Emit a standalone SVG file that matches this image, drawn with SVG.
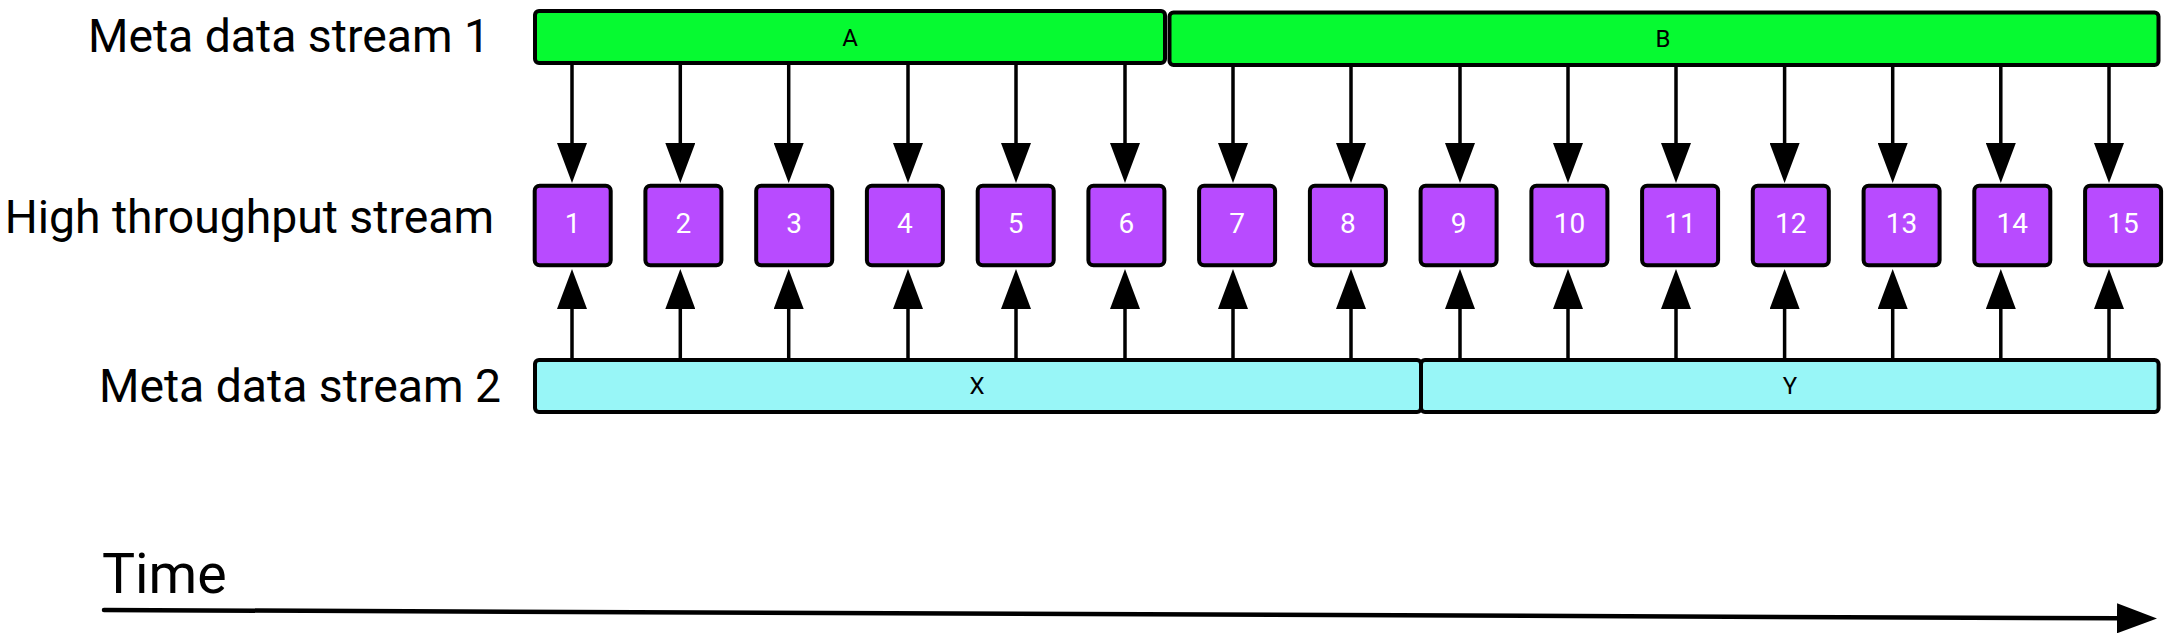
<svg xmlns="http://www.w3.org/2000/svg" width="2170" height="641" viewBox="0 0 2170 641">
<style>
  text { font-family: Roboto, "Liberation Sans", sans-serif; }
  .lbl { font-size: 46.3px; fill: #000; }
  .g { fill: #06FA31; stroke: #000; stroke-width: 4; }
  .c { fill: #98F6F7; stroke: #000; stroke-width: 4; }
  .p { fill: #B84BFF; stroke: #000; stroke-width: 4; }
  .bt { font-size: 24px; fill: #000; text-anchor: middle; }
  .pt { font-size: 28px; fill: #fff; text-anchor: middle; }
  .ar { stroke: #000; stroke-width: 3.5; fill: none; marker-end: url(#ah); }
</style>
<defs>
  <marker id="ah" markerUnits="userSpaceOnUse" markerWidth="40" markerHeight="30" refX="1" refY="15" orient="auto" viewBox="0 0 40 30">
    <path d="M0,0 L40,15 L0,30 Z" fill="#000"/>
  </marker>
</defs>
<rect width="2170" height="641" fill="#fff"/>

<g id="labels">
  <text class="lbl" x="490" y="52" text-anchor="end">Meta data stream 1</text>
  <text class="lbl" x="494" y="233" text-anchor="end">High throughput stream</text>
  <text class="lbl" x="501" y="402" text-anchor="end">Meta data stream 2</text>
  <text class="lbl" x="102" y="593" style="font-size:55.5px">Time</text>
</g>

<g id="stream1-A"><rect class="g" x="535" y="11" width="630" height="52" rx="4"/><text class="bt" x="850" y="46">A</text></g>
<g id="stream1-B"><rect class="g" x="1169.5" y="12.5" width="989" height="52.5" rx="4"/><text class="bt" x="1663" y="47">B</text></g>
<g id="stream2-X"><rect class="c" x="535" y="360" width="886" height="52" rx="4"/><text class="bt" x="977" y="394">X</text></g>
<g id="stream2-Y"><rect class="c" x="1421" y="360" width="737.6" height="52" rx="4"/><text class="bt" x="1790" y="394">Y</text></g>

<g id="n1"><rect class="p" x="534.7" y="185.7" width="76" height="79.6" rx="5"/><text class="pt" x="572.7" y="233">1</text></g>
<g id="n2"><rect class="p" x="645.4" y="185.7" width="76" height="79.6" rx="5"/><text class="pt" x="683.4" y="233">2</text></g>
<g id="n3"><rect class="p" x="756.2" y="185.7" width="76" height="79.6" rx="5"/><text class="pt" x="794.2" y="233">3</text></g>
<g id="n4"><rect class="p" x="866.9" y="185.7" width="76" height="79.6" rx="5"/><text class="pt" x="904.9" y="233">4</text></g>
<g id="n5"><rect class="p" x="977.7" y="185.7" width="76" height="79.6" rx="5"/><text class="pt" x="1015.7" y="233">5</text></g>
<g id="n6"><rect class="p" x="1088.4" y="185.7" width="76" height="79.6" rx="5"/><text class="pt" x="1126.4" y="233">6</text></g>
<g id="n7"><rect class="p" x="1199.1" y="185.7" width="76" height="79.6" rx="5"/><text class="pt" x="1237.1" y="233">7</text></g>
<g id="n8"><rect class="p" x="1309.9" y="185.7" width="76" height="79.6" rx="5"/><text class="pt" x="1347.9" y="233">8</text></g>
<g id="n9"><rect class="p" x="1420.6" y="185.7" width="76" height="79.6" rx="5"/><text class="pt" x="1458.6" y="233">9</text></g>
<g id="n10"><rect class="p" x="1531.4" y="185.7" width="76" height="79.6" rx="5"/><text class="pt" x="1569.4" y="233">10</text></g>
<g id="n11"><rect class="p" x="1642.1" y="185.7" width="76" height="79.6" rx="5"/><text class="pt" x="1680.1" y="233">11</text></g>
<g id="n12"><rect class="p" x="1752.8" y="185.7" width="76" height="79.6" rx="5"/><text class="pt" x="1790.8" y="233">12</text></g>
<g id="n13"><rect class="p" x="1863.6" y="185.7" width="76" height="79.6" rx="5"/><text class="pt" x="1901.6" y="233">13</text></g>
<g id="n14"><rect class="p" x="1974.3" y="185.7" width="76" height="79.6" rx="5"/><text class="pt" x="2012.3" y="233">14</text></g>
<g id="n15"><rect class="p" x="2085.1" y="185.7" width="76" height="79.6" rx="5"/><text class="pt" x="2123.1" y="233">15</text></g>

<g id="connectors">
  <line class="ar" x1="572" y1="65" x2="572" y2="144"/>
  <line class="ar" x1="680.3" y1="65" x2="680.3" y2="144"/>
  <line class="ar" x1="788.7" y1="65" x2="788.7" y2="144"/>
  <line class="ar" x1="908" y1="65" x2="908" y2="144"/>
  <line class="ar" x1="1016" y1="65" x2="1016" y2="144"/>
  <line class="ar" x1="1125" y1="65" x2="1125" y2="144"/>
  <line class="ar" x1="1233" y1="66" x2="1233" y2="144"/>
  <line class="ar" x1="1351" y1="66" x2="1351" y2="144"/>
  <line class="ar" x1="1460" y1="66" x2="1460" y2="144"/>
  <line class="ar" x1="1568" y1="66" x2="1568" y2="144"/>
  <line class="ar" x1="1676" y1="66" x2="1676" y2="144"/>
  <line class="ar" x1="1784.6" y1="66" x2="1784.6" y2="144"/>
  <line class="ar" x1="1892.7" y1="66" x2="1892.7" y2="144"/>
  <line class="ar" x1="2000.8" y1="66" x2="2000.8" y2="144"/>
  <line class="ar" x1="2109" y1="66" x2="2109" y2="144"/>

  <line class="ar" x1="572" y1="358" x2="572" y2="308"/>
  <line class="ar" x1="680.3" y1="358" x2="680.3" y2="308"/>
  <line class="ar" x1="788.7" y1="358" x2="788.7" y2="308"/>
  <line class="ar" x1="908" y1="358" x2="908" y2="308"/>
  <line class="ar" x1="1016" y1="358" x2="1016" y2="308"/>
  <line class="ar" x1="1125" y1="358" x2="1125" y2="308"/>
  <line class="ar" x1="1233" y1="358" x2="1233" y2="308"/>
  <line class="ar" x1="1351" y1="358" x2="1351" y2="308"/>
  <line class="ar" x1="1460" y1="358" x2="1460" y2="308"/>
  <line class="ar" x1="1568" y1="358" x2="1568" y2="308"/>
  <line class="ar" x1="1676" y1="358" x2="1676" y2="308"/>
  <line class="ar" x1="1784.6" y1="358" x2="1784.6" y2="308"/>
  <line class="ar" x1="1892.7" y1="358" x2="1892.7" y2="308"/>
  <line class="ar" x1="2000.8" y1="358" x2="2000.8" y2="308"/>
  <line class="ar" x1="2109" y1="358" x2="2109" y2="308"/>

  <line x1="104" y1="610" x2="2118" y2="618.3" stroke="#000" stroke-width="4.5" stroke-linecap="round" marker-end="url(#ah)"/>
</g>
</svg>
